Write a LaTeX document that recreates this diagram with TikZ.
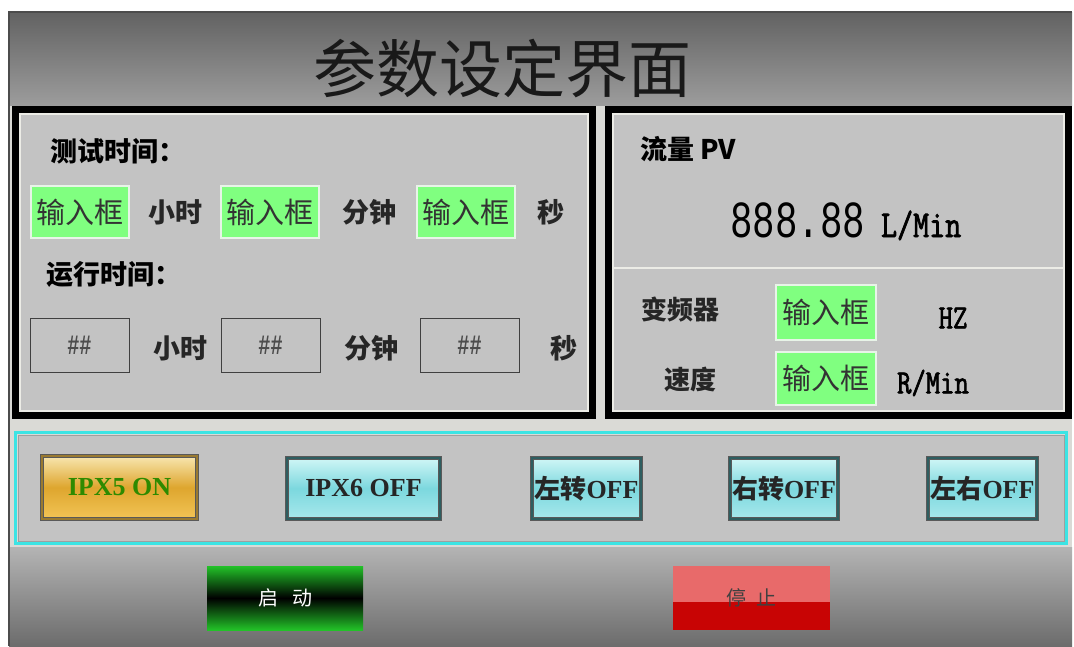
\documentclass[tikz,border=0pt]{standalone}
\usepackage{fontspec}
\usepackage{tikz}
\newfontfamily\cjk{Noto Sans CJK SC}
\newfontfamily\tallmono[FakeStretch=0.72]{Liberation Mono}
\newfontfamily\slabmono[FakeStretch=0.82, FakeBold=2]{Latin Modern Mono}
\newfontfamily\btnserif{Liberation Serif}
\definecolor{panelgray}{HTML}{C3C3C3}
\definecolor{gapgray}{HTML}{DADAD6}
\definecolor{bevel}{HTML}{ECECE6}
\definecolor{titletop}{HTML}{626262}
\definecolor{titlebot}{HTML}{9C9C9C}
\definecolor{foottop}{HTML}{B4B4B4}
\definecolor{footbot}{HTML}{6C6C6C}
\definecolor{inputgreen}{HTML}{80FF80}
\definecolor{inedge}{HTML}{E8F4E8}
\definecolor{cyanline}{HTML}{3CE4E4}
\definecolor{cyantop}{HTML}{D0F6F6}
\definecolor{cyanmid}{HTML}{7CD8DE}
\definecolor{cyanbot}{HTML}{A8E8EC}
\definecolor{tealedge}{HTML}{2E5E60}
\definecolor{goldtop}{HTML}{F8E6B0}
\definecolor{goldmid}{HTML}{DEA62E}
\definecolor{goldbot}{HTML}{F2C456}
\definecolor{goldedge}{HTML}{9A7A30}
\definecolor{ongreen}{HTML}{2E8A00}
\definecolor{startgreen}{HTML}{22C228}
\definecolor{stoplight}{HTML}{E86A6A}
\definecolor{stopdark}{HTML}{C80404}
\tikzstyle{title}=[inner sep=0pt, font=\cjk\fontsize{63}{70}\selectfont, text=black!90]
\tikzstyle{frame}=[draw=black, line width=7pt]
\tikzstyle{panel}=[fill=panelgray, draw=bevel, line width=1.5pt]
\tikzstyle{head}=[anchor=west, inner sep=0pt, font=\cjk\bfseries\fontsize{27}{30}\selectfont]
\tikzstyle{lbl}=[inner sep=0pt, font=\cjk\bfseries\fontsize{27}{30}\selectfont, text=black!85]
\tikzstyle{unit}=[inner sep=0pt, font=\slabmono\fontsize{34}{36}\selectfont]
\tikzstyle{inbox}=[rectangle, fill=inputgreen, draw=inedge, line width=1.5pt, minimum width=98pt, minimum height=52pt, inner sep=0pt, font=\cjk\fontsize{29}{30}\selectfont, text=black!80]
\tikzstyle{outbox}=[rectangle, draw=black!75, line width=1pt, minimum width=99pt, minimum height=54pt, inner sep=0pt, font=\tallmono\bfseries\fontsize{28}{30}\selectfont, text=black!70]
\tikzstyle{btn}=[rectangle, draw=gray!70!black, line width=1pt, double=tealedge, double distance=2pt, minimum height=61pt, inner sep=0pt, font=\btnserif\bfseries\fontsize{26}{30}\selectfont, text=black!85, top color=cyantop, bottom color=cyanbot, middle color=cyanmid]
\tikzstyle{gold}=[btn, double=goldedge, top color=goldtop, bottom color=goldbot, middle color=goldmid, text=ongreen]
\tikzstyle{big}=[rectangle, minimum width=156pt, minimum height=64pt, inner sep=0pt, font=\cjk\fontsize{20}{22}\selectfont]

\begin{document}
\begin{tikzpicture}[x=1pt,y=-1pt]
				\useasboundingbox (0,0) rectangle (1074,646);
				%The screen
				\fill[white] (0,0) rectangle (1074,646);
				\fill[gapgray] (9,12) rectangle (1072,646);
				\fill[top color=titletop, bottom color=titlebot] (9,12) rectangle (1072,105);
				\fill[top color=foottop, bottom color=footbot] (9,547) rectangle (1072,646);
				\draw[line width=2pt, black!70] (9,646) -- (9,12) -- (1072,12);
				\draw (502,69) node[title] (title) {参数设定界面};
				
				%The left panel
				\draw[frame] (15.5,109.5) rectangle (592.5,415.5);
				\draw[panel] (20,114) rectangle (588,411);
				\draw (50,151) node[head] (test) {测试时间：};
				\draw (80,212) node[inbox] (th) {输入框};
				\draw (175,212) node[lbl] (thl) {小时};
				\draw (270,212) node[inbox] (tm) {输入框};
				\draw (369,212) node[lbl] (tml) {分钟};
				\draw (466,212) node[inbox] (ts) {输入框};
				\draw (551,212) node[lbl] (tsl) {秒};
				\draw (46,274) node[head] (run) {运行时间：};
				\draw (79.5,345) node[outbox] (rh) {\#\#};
				\draw (180,348) node[lbl] (rhl) {小时};
				\draw (270.5,345) node[outbox] (rm) {\#\#};
				\draw (371,348) node[lbl] (rml) {分钟};
				\draw (469.5,345) node[outbox] (rs) {\#\#};
				\draw (564,348) node[lbl] (rsl) {秒};
				
				%The right panel
				\draw[frame] (608.5,109.5) rectangle (1068.5,415.5);
				\draw[panel] (613,114) rectangle (1064,411);
				\draw[bevel, line width=1.5pt] (613,268) -- (1064,268);
				\draw (640,149) node[head] (flow) {流量 PV};
				\draw (730,237) node[anchor=base west, inner sep=0pt, font=\tallmono] (pv) {{\fontsize{52}{54}\selectfont 888.88}\hspace{16pt}{\slabmono\fontsize{38}{42}\selectfont L/Min}};
				\draw (680,310) node[lbl, font=\cjk\bfseries\fontsize{26}{28}\selectfont] (inv) {变频器};
				\draw (826,312.5) node[inbox, minimum height=55pt, minimum width=100pt] (hz) {输入框};
				\draw (953,318) node[unit] (hzl) {HZ};
				\draw (690,380) node[lbl, font=\cjk\bfseries\fontsize{26}{28}\selectfont] (spd) {速度};
				\draw (826,378.5) node[inbox, minimum height=53pt, minimum width=100pt] (rpm) {输入框};
				\draw (933,383) node[unit] (rpml) {R/Min};
				
				%The button row
				\draw[cyanline, line width=3pt] (15.5,432.5) rectangle (1066.5,543.5);
				\draw[fill=panelgray, draw=gray!75] (18,435) rectangle (1064,541);
				\draw (119.5,487.5) node[gold, minimum width=155pt, minimum height=63pt] (ipx5) {IPX5 ON};
				\draw (363.5,488.5) node[btn, minimum width=153pt] (ipx6) {IPX6 OFF};
				\draw (586.5,488.5) node[btn, minimum width=109pt] (left) {{\cjk 左转}OFF};
				\draw (784,488.5) node[btn, minimum width=108pt] (right) {{\cjk 右转}OFF};
				\draw (982.5,488.5) node[btn, minimum width=109pt] (both) {{\cjk 左右}OFF};
				
				%Start and stop
				\draw (285,598) node[big, top color=startgreen, bottom color=startgreen, middle color=black, text=white] (start) {启\hspace{14pt}动};
				\draw (751.5,598) node[big, minimum width=157pt, fill=stoplight, text=black!75, path picture={\fill[stopdark] ([yshift=-4pt]path picture bounding box.west) rectangle (path picture bounding box.south east);}] (stop) {停\hspace{10pt}止};
			\end{tikzpicture}
\end{document}
